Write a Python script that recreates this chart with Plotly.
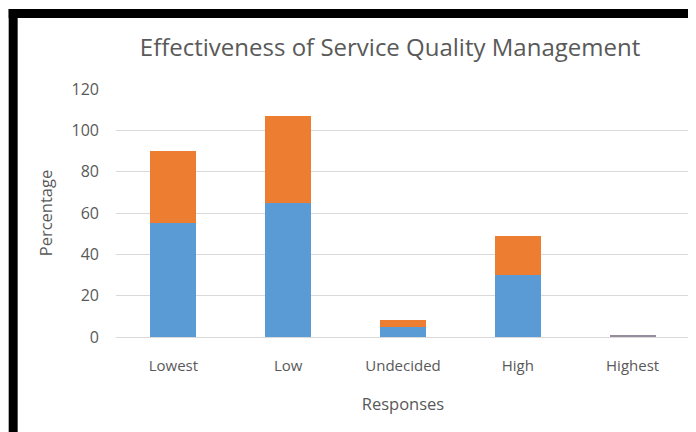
import plotly.graph_objects as go

categories = ["Lowest", "Low", "Undecided", "High", "Highest"]
series_blue = [55, 65, 5, 30, 0]
series_orange = [35, 42, 3, 19, 0]
series_grey = [0, 0, 0, 0, 0.8]
y_ticks = [0, 20, 40, 60, 80, 100, 120]

# page body has an 8px margin, so the figure is drawn 8px in from the window edge
W, H = 688, 424
ml, mr, mt, mb = 107.5, 5.5, 81, 95
pw, ph = W - ml - mr, H - mt - mb

def px_x(p):
    return (p - ml) / pw

def px_y(p):
    return 1 - (p - mt) / ph

fig = go.Figure()
fig.add_bar(x=categories, y=series_blue, marker_color="#5B9BD5", marker_line_width=0, name="Series 1")
fig.add_bar(x=categories, y=series_orange, marker_color="#ED7D31", marker_line_width=0, name="Series 2")
fig.add_bar(x=categories, y=series_grey, marker_color="#958C9E", marker_line_width=0, name="Series 3")

font = "Open Sans"
fig.update_layout(
    width=W, height=H,
    barmode="stack", bargap=0.6,
    showlegend=False,
    paper_bgcolor="white", plot_bgcolor="white",
    margin=dict(l=ml, r=mr, t=mt, b=mb, pad=0),
    font=dict(family=font, color="#595959"),
    title=dict(text="Effectiveness of Service Quality Management", x=382 / W, xanchor="center",
               y=1 - 40 / H, yanchor="middle", font=dict(size=24, color="#595959", family=font)),
    xaxis=dict(showgrid=False, showline=True, linecolor="#D9D9D9", linewidth=1,
               tickfont=dict(size=15, color="#595959"), ticklabelstandoff=15,
               title=dict(text="Responses", font=dict(size=16.5, color="#595959"), standoff=24)),
    yaxis=dict(range=[0, 120], tickvals=y_ticks, showgrid=True, gridcolor="#D9D9D9", gridwidth=1,
               zeroline=False, showline=False,
               tickfont=dict(size=16, color="#595959"), ticklabelstandoff=16,
               title=dict(text="Percentage", font=dict(size=16.5, color="#595959"), standoff=14)),
)

# black frame (top and left edges of the original screenshot)
fig.add_shape(type="rect", xref="paper", yref="paper", x0=px_x(0), x1=px_x(9), y0=px_y(H), y1=px_y(1),
              fillcolor="black", line_width=0, layer="above")
fig.add_shape(type="rect", xref="paper", yref="paper", x0=px_x(0), x1=px_x(W), y0=px_y(10), y1=px_y(1),
              fillcolor="black", line_width=0, layer="above")

fig.write_html("out.html")
